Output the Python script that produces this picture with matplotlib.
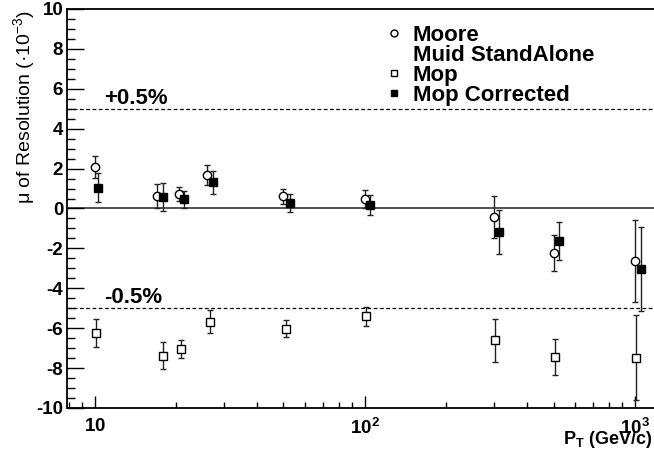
import matplotlib
matplotlib.use("Agg")
import matplotlib.pyplot as plt
from matplotlib.ticker import FixedLocator, MultipleLocator, NullFormatter, LogLocator

plt.rcParams["font.family"] = ["Liberation Sans", "DejaVu Sans"]
plt.rcParams["mathtext.fontset"] = "custom"
plt.rcParams["mathtext.rm"] = "Liberation Sans"
plt.rcParams["mathtext.bf"] = "Liberation Sans:bold"
plt.rcParams["mathtext.default"] = "regular"
plt.rcParams["axes.unicode_minus"] = False

# Moore
pt_moore = [10, 17, 20.5, 26, 50, 100, 300, 500, 1000]
mu_moore = [2.09, 0.64, 0.71, 1.67, 0.61, 0.47, -0.43, -2.21, -2.64]
err_moore = [0.56, 0.60, 0.35, 0.51, 0.37, 0.47, 1.04, 0.90, 2.07]

# Mop
pt_mop = [10.1, 17.9, 20.9, 26.7, 50.9, 101, 304, 508, 1014]
mu_mop = [-6.24, -7.38, -7.04, -5.68, -6.03, -5.41, -6.61, -7.44, -7.48]
err_mop = [0.71, 0.67, 0.43, 0.58, 0.43, 0.49, 1.06, 0.92, 2.14]

# Mop Corrected
pt_corr = [10.26, 17.95, 21.5, 27.4, 52.7, 105, 314, 524, 1052]
mu_corr = [1.04, 0.56, 0.46, 1.31, 0.29, 0.16, -1.18, -1.63, -3.04]
err_corr = [0.72, 0.70, 0.44, 0.59, 0.45, 0.50, 1.12, 0.94, 2.10]

band_levels = [5, -5]
band_labels = ["+0.5%", "-0.5%"]

legend_labels = ["Moore", "Muid StandAlone", "Mop", "Mop Corrected"]

W, H = 654, 450
fig = plt.figure(figsize=(W / 100, H / 100), dpi=100)
ax_l, ax_r, ax_t, ax_b = 67.3, 655.5, 9, 408
ax = fig.add_axes([ax_l / W, 1 - ax_b / H, (ax_r - ax_l) / W, (ax_b - ax_t) / H])

ax.set_xscale("log")
ax.set_xlim(7.915, 1193)
ax.set_ylim(-10, 10)

# reference lines
ax.axhline(0, color="#444444", lw=1.3, zorder=1)
for lvl in band_levels:
    ax.axhline(lvl, color="black", lw=0.9, ls=(0, (3, 2)), zorder=1)
for lvl, lab in zip(band_levels, band_labels):
    ax.text(10.8, lvl + 0.25, lab, fontsize=16, fontweight="bold", ha="left", va="baseline")

eb = dict(ecolor="#222222", elinewidth=1.0, capsize=2.5, capthick=1.0, ls="none", zorder=3)
ax.errorbar(pt_moore, mu_moore, yerr=err_moore, fmt="o", ms=6, mfc="white", mec="black", mew=1.0, **eb)
ax.errorbar(pt_mop, mu_mop, yerr=err_mop, fmt="s", ms=6, mfc="white", mec="black", mew=1.0, **eb)
ax.errorbar(pt_corr, mu_corr, yerr=err_corr, fmt="s", ms=6, mfc="black", mec="black", mew=1.0, **eb)

# legend drawn by hand (tight ROOT-style spacing)
leg_markers = [dict(marker="o", mfc="white"), None, dict(marker="s", mfc="white"), dict(marker="s", mfc="black")]
leg_y_px = [33, 53, 73, 93]
for lab, mk, ypx in zip(legend_labels, leg_markers, leg_y_px):
    ya = (ax_b - ypx) / (ax_b - ax_t)
    if mk is not None:
        ax.plot([(394 - ax_l) / (ax_r - ax_l)], [ya], transform=ax.transAxes, ls="none",
                ms=5, mec="black", mew=1.0, clip_on=False, **mk)
    ax.text((413 - ax_l) / (ax_r - ax_l), ya - 8 / (ax_b - ax_t), lab, transform=ax.transAxes,
            fontsize=16, fontweight="bold", ha="left", va="baseline")

# axes styling
for sp in ax.spines.values():
    sp.set_linewidth(1.3)
ax.yaxis.set_major_locator(MultipleLocator(2))
ax.yaxis.set_minor_locator(MultipleLocator(0.5))
ax.xaxis.set_major_locator(FixedLocator([10, 100, 1000]))
ax.xaxis.set_minor_locator(LogLocator(base=10, subs=range(2, 10)))
ax.xaxis.set_minor_formatter(NullFormatter())
ax.set_xticklabels([r"$\mathbf{10}$", r"$\mathbf{10^{2}}$", r"$\mathbf{10^{3}}$"])
ax.tick_params(axis="y", which="major", direction="in", length=12.5, width=1.0, right=False, labelsize=13.5, pad=3)
ax.tick_params(axis="y", which="minor", direction="in", length=6, width=1.0, right=False)
ax.tick_params(axis="x", which="major", direction="in", length=8.6, width=1.0, top=False, labelsize=13.5, pad=7)
ax.tick_params(axis="x", which="minor", direction="in", length=4.3, width=1.0, top=False)
for t in ax.get_yticklabels():
    t.set_fontweight("bold")

fig.text(24 / W, 1 - 10 / H, r"μ of Resolution (·10$^{-3}$)", rotation=90, ha="center", va="top", fontsize=14)
fig.text(652 / W, 1 - 440 / H, r"P$_{\mathbf{T}}$ (GeV/c)", ha="right", va="center", fontsize=13, fontweight="bold")

fig.savefig("out.png", dpi=100)
